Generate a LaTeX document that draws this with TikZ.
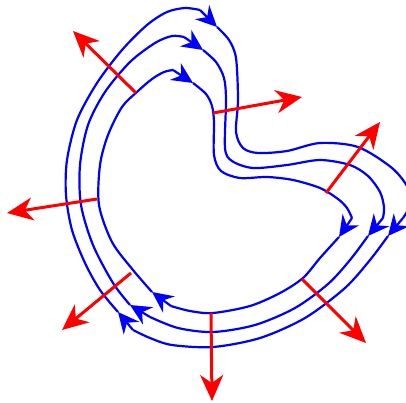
\documentclass[tikz,border=0pt]{standalone}
\usetikzlibrary{arrows.meta}
\tikzstyle{fieldline} = [
    draw=blue,
    line width=2.2pt,
    line join=round
]
\tikzstyle{fieldtip} = [
    fieldline,
    -{Stealth[length=21pt,width=20pt,inset=7pt]}
]
\tikzstyle{normalvec} = [
    draw=red,
    line width=3pt,
    -{Stealth[length=26pt,width=23pt,inset=8pt]}
]

\begin{document}
\begin{tikzpicture}[x=1pt, y=-1pt]

\clip (0,0) rectangle (406,402);

% inner line
\draw [fieldline] plot[smooth] coordinates {(152,292) (133,270) (112,242) (99,205) (100,165) (108,135) (122,107) (138,91) (152,79) (164,72) (173,70)};
\draw [fieldline] plot[smooth] coordinates {(193,83) (206,94) (212,106) (214,122) (214,155) (221,171) (240,178) (267,177) (293,180) (320,188) (338,199) (347,208) (352,218)};
\draw [fieldline] plot[smooth] coordinates {(339,237) (320,258) (303,278) (280,293) (250,306) (213,313) (190,311) (171,306)};

% middle line
\draw [fieldline] plot[smooth] coordinates {(130,305) (113,283) (93,245) (81,205) (80,165) (88,125) (105,92) (130,62) (155,43) (172,36) (184,37)};
\draw [fieldline] plot[smooth] coordinates {(203,50) (216,62) (224,78) (226,100) (225,148) (232,161) (253,168) (287,165) (320,160) (350,165) (368,176) (380,192) (384,207) (383,218)};
\draw [fieldline] plot[smooth] coordinates {(368,236) (350,260) (328,284) (295,308) (255,325) (213,332) (178,328) (150,317)};

% outer line
\draw [fieldline] plot[smooth] coordinates {(118,312) (100,290) (85,263) (72,230) (66,195) (67,160) (77,120) (97,83) (122,50) (147,25) (167,12) (185,8) (200,10)};
\draw [fieldline] plot[smooth] coordinates {(217,27) (229,40) (236,58) (238,100) (236,132) (243,148) (258,153) (287,151) (320,143) (358,147) (392,168) (408,188) (410,205) (403,218)};
\draw [fieldline] plot[smooth] coordinates {(388,236) (370,260) (345,288) (305,318) (260,338) (213,347) (172,345) (150,338) (133,330)};

% arrow tips on the lines
\draw [fieldtip] (173,70) -- (193,83);
\draw [fieldtip] (352,218) -- (339,237);
\draw [fieldtip] (171,306) -- (152,292);
\draw [fieldtip] (184,37) -- (203,50);
\draw [fieldtip] (383,218) -- (368,236);
\draw [fieldtip] (150,317) -- (130,305);
\draw [fieldtip] (200,10) -- (217,27);
\draw [fieldtip] (403,218) -- (388,236);
\draw [fieldtip] (133,330) -- (118,312);

% normals
\coordinate (n1) at (136,93);
\coordinate (n1end) at (73,31);
\coordinate (n2) at (213,113);
\coordinate (n2end) at (302,97);
\coordinate (n3) at (326,193);
\coordinate (n3end) at (380,122);
\coordinate (n4) at (97,199);
\coordinate (n4end) at (7,213);
\coordinate (n5) at (131,273);
\coordinate (n5end) at (62,330);
\coordinate (n6) at (211,313);
\coordinate (n6end) at (212,401);
\coordinate (n7) at (302,279);
\coordinate (n7end) at (366,343);

\draw [normalvec] (n1) -- (n1end);
\draw [normalvec] (n2) -- (n2end);
\draw [normalvec] (n3) -- (n3end);
\draw [normalvec] (n4) -- (n4end);
\draw [normalvec] (n5) -- (n5end);
\draw [normalvec] (n6) -- (n6end);
\draw [normalvec] (n7) -- (n7end);

\end{tikzpicture}
\end{document}
